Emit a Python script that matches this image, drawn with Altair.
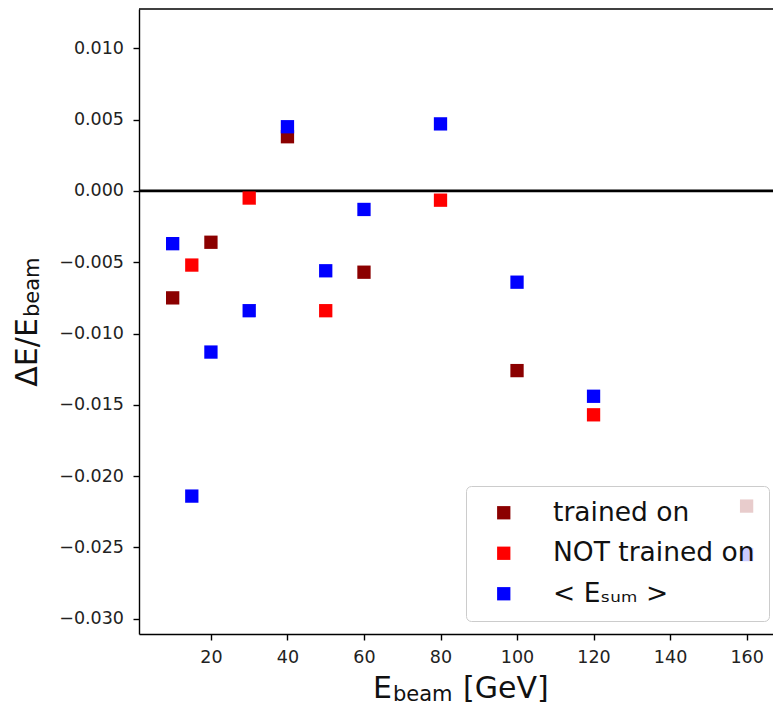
import altair as alt
import pandas as pd

# ---- data ----
series_names = ["trained on", "NOT trained on", "< Eₛᵤₘ >"]
series_colors = ["#8b0000", "#ff0000", "#0000ff"]

e_trained = [10, 20, 40, 60, 100, 160]
r_trained = [-0.0075, -0.0036, 0.0038, -0.0057, -0.0126, -0.0221]

e_not = [15, 30, 50, 80, 120]
r_not = [-0.0052, -0.0005, -0.0084, -0.00065, -0.0157]

e_sum = [10, 15, 20, 30, 40, 50, 60, 80, 100, 120, 160]
r_sum = [-0.0037, -0.0214, -0.0113, -0.0084, 0.0045, -0.0056, -0.0013, 0.0047,
         -0.0064, -0.0144, -0.0255]

x_ticks = [20, 40, 60, 80, 100, 120, 140, 160]
y_ticks = [-0.030, -0.025, -0.020, -0.015, -0.010, -0.005, 0.0, 0.005, 0.010]

x_domain = [1.2, 166.9]
y_domain = [-0.03107, 0.012756]

W, H = 634, 625
FONT = "DejaVu Sans"

frames = []
for name, es, rs in [(series_names[0], e_trained, r_trained),
                     (series_names[1], e_not, r_not),
                     (series_names[2], e_sum, r_sum)]:
    frames.append(pd.DataFrame({"E": es, "R": rs, "series": name}))
df = pd.concat(frames, ignore_index=True)

x_enc = alt.X("E:Q", scale=alt.Scale(domain=x_domain, nice=False, zero=False),
              axis=alt.Axis(values=x_ticks, title=None, labelFontSize=17.5,
                            labelPadding=8, tickSize=6, labelOverlap=False,
                            labelFlush=False))
y_enc = alt.Y("R:Q", scale=alt.Scale(domain=y_domain, nice=False, zero=False),
              axis=alt.Axis(values=y_ticks, title=None, format=".3f",
                            labelFontSize=17.5, labelPadding=9.5, tickSize=6,
                            labelOverlap=False, labelFlush=False))

points = alt.Chart(df).mark_square(size=177, opacity=1).encode(
    x=x_enc,
    y=y_enc,
    color=alt.Color("series:N",
                    scale=alt.Scale(domain=series_names, range=series_colors),
                    sort=series_names,
                    legend=alt.Legend(
                        title=None, orient="none", legendX=327, legendY=477,
                        symbolType="square", symbolSize=177, symbolOpacity=1,
                        symbolStrokeWidth=0,
                        labelFontSize=26.5, labelFont=FONT, labelColor="#111",
                        labelLimit=500, labelOffset=36, symbolOffset=11,
                        padding=13.5, rowPadding=13.5,
                        fillColor="rgba(255,255,255,0.8)", strokeColor="#cccccc",
                        cornerRadius=5, zindex=1)),
)

zero_df = pd.DataFrame({"R": [0.0]})
zero_line = alt.Chart(zero_df).mark_rule(color="black", strokeWidth=2.8).encode(y="R:Q")

top_spine = alt.Chart(zero_df).mark_rule(color="black", strokeWidth=1.4).encode(
    x=alt.value(0), x2=alt.value(W), y=alt.value(0))

tdf = pd.DataFrame({"a": [0]})
def txt(text, x, y, size, angle=0):
    kw = dict(text=text, font=FONT, fontSize=size, align="left",
              baseline="alphabetic", color="#111")
    if angle:
        kw["angle"] = angle
    return alt.Chart(tdf).mark_text(**kw).encode(x=alt.value(x), y=alt.value(y))

# x axis title: E_beam [GeV]
xt1 = txt("E", 234, 689, 30)
xt2 = txt("beam", 254, 691.5, 21)
xt3 = txt("[GeV]", 324, 689, 30)
# y axis title: ΔE/E_beam (rotated)
yt1 = txt("ΔE/E", -102.3, 377.7, 30, angle=270)
yt2 = txt("beam", -99.8, 308, 21, angle=270)

chart = alt.layer(zero_line, top_spine, points, xt1, xt2, xt3, yt1, yt2).properties(
    width=W, height=H,
    autosize=alt.AutoSizeParams(type="none"),
    padding={"left": 139, "top": 9, "right": 0, "bottom": 71},
).configure(font=FONT).configure_view(stroke=None).configure_axis(
    grid=False, domainColor="black", domainWidth=1.4, tickColor="black",
    tickWidth=1.4, labelColor="#222", labelFont=FONT)

chart.save("out.html", embed_options={"renderer": "svg", "actions": False})
